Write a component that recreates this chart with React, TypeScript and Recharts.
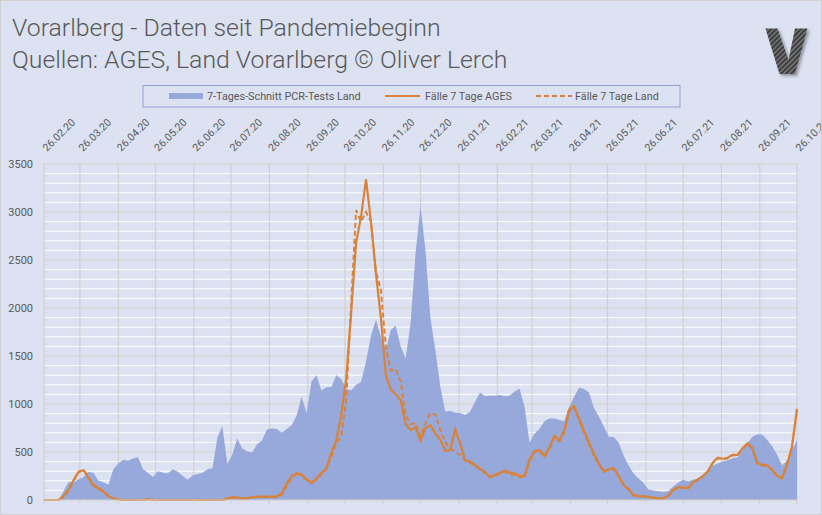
import { ComposedChart, Area, Line, XAxis, YAxis, CartesianGrid } from 'recharts';

// one sample every 4 days, starting 26.02.20
const STEP_DAYS = 4;

const tickLabels = [
  '26.02.20', '26.03.20', '26.04.20', '26.05.20', '26.06.20', '26.07.20', '26.08.20',
  '26.09.20', '26.10.20', '26.11.20', '26.12.20', '26.01.21', '26.02.21', '26.03.21',
  '26.04.21', '26.05.21', '26.06.21', '26.07.21', '26.08.21', '26.09.21', '26.10.21',
];
// days since 26.02.20
const tickDays = [0, 29, 60, 90, 121, 151, 182, 213, 243, 274, 304, 335, 366, 394, 425, 455, 486, 516, 547, 578, 608];

const yTicks = [0, 500, 1000, 1500, 2000, 2500, 3000, 3500];
const yMinor = [
  100, 200, 300, 400, 600, 700, 800, 900, 1100, 1200, 1300, 1400, 1600, 1700, 1800, 1900,
  2100, 2200, 2300, 2400, 2600, 2700, 2800, 2900, 3100, 3200, 3300, 3400,
];

// 7-Tages-Schnitt PCR-Tests Land
const pcrTests = [
  0, 0, 0, 0,
  100, 190, 185, 215, 240, 295, 280, 200, 185, 160,
  320, 380, 420, 410, 435, 445, 320, 280, 240, 300,
  285, 275, 320, 295, 250, 210, 255, 270, 285, 320,
  330, 650, 770, 380, 470, 640, 540, 505, 495, 580,
  620, 735, 745, 740, 700, 740, 780, 880, 1075, 905,
  1235, 1300, 1140, 1175, 1175, 1300, 1260, 1160, 1140, 1200,
  1230, 1440, 1710, 1880, 1700, 1565, 1770, 1815, 1600, 1475,
  1840, 2570, 3060, 2605, 1895, 1560, 1180, 920, 930, 910,
  905, 885, 920, 1020, 1120, 1080, 1085, 1085, 1095, 1080,
  1085, 1130, 1160, 975, 600, 690, 740, 820, 850, 850,
  835, 820, 970, 1075, 1170, 1155, 1120, 960, 870, 765,
  660, 655, 600, 460, 360, 275, 225, 180, 110, 100,
  90, 85, 90, 140, 180, 210, 195, 210, 225, 235,
  300, 360, 380, 400, 415, 435, 445, 520, 590, 660,
  685, 680, 625, 560, 470, 360, 415, 520, 625,
];

// Fälle 7 Tage AGES
const casesAges = [
  0, 0, 0, 0,
  45, 110, 210, 295, 310, 225, 150, 120, 85, 40,
  15, 5, 0, 0, 0, 0, 0, 10, 0, 0,
  0, 0, 0, 0, 0, 0, 0, 0, 0, 0,
  0, 0, 0, 15, 30, 25, 15, 17, 30, 35,
  35, 35, 35, 38, 70, 170, 250, 280, 260, 210,
  175, 225, 280, 330, 490, 620, 880, 1260, 1950, 2680,
  2950, 3340, 2900, 2360, 1900, 1300, 1150, 1100, 1040, 790,
  730, 760, 620, 750, 780, 695, 625, 510, 520, 735,
  590, 415, 400, 365, 330, 290, 240, 260, 285, 305,
  285, 275, 250, 250, 420, 510, 520, 460, 540, 670,
  620, 720, 940, 980, 850, 720, 600, 480, 380, 300,
  320, 330, 250, 155, 115, 50, 40, 38, 33, 25,
  17, 17, 45, 105, 135, 130, 125, 185, 215, 250,
  300, 390, 440, 430, 440, 470, 470, 540, 590, 540,
  385, 365, 360, 315, 250, 230, 370, 560, 950,
];

// Fälle 7 Tage Land
const casesLand = [
  0, 0, 0, 0,
  35, 100, 200, 290, 315, 235, 160, 125, 95, 45,
  15, 5, 0, 0, 0, 0, 0, 8, 0, 0,
  0, 0, 0, 0, 0, 0, 0, 0, 0, 0,
  0, 0, 0, 10, 25, 25, 15, 15, 28, 30,
  30, 32, 30, 35, 55, 140, 225, 270, 265, 220,
  180, 215, 270, 320, 450, 590, 660, 1040, 2050, 3020,
  2900, 3000, 2900, 2380, 2190, 1600, 1350, 1360, 1230, 880,
  790, 800, 660, 800, 905, 890, 730, 600, 540, 505,
  470, 410, 390, 355, 320, 285, 235, 250, 275, 295,
  270, 260, 240, 240, 400, 500, 510, 450, 530, 650,
  610, 700, 920, 970, 830, 700, 580, 460, 370, 295,
  315, 325, 245, 150, 110, 48, 38, 35, 30, 22,
  15, 15, 40, 100, 130, 125, 120, 180, 210, 245,
  295, 385, 435, 425, 435, 465, 465, 535, 585, 535,
  380, 360, 355, 310, 245, 225, 365, 555, 940,
];

const data = pcrTests.map((v, i) => ({
  day: i * STEP_DAYS,
  pcr: v,
  ages: casesAges[i],
  land: casesLand[i],
}));

const BG = '#dce2f1';
const BLUE = '#97a9da';
const ORANGE = '#d9823a';
const GRID = '#d3d1ce';
const TEXT = '#595959';
const FONT = 'Roboto, "Open Sans", sans-serif';

function DateTick({ x, payload }: any) {
  const label = tickLabels[tickDays.indexOf(payload.value)] ?? '';
  const tx = x + 3;
  const ty = 152;
  return (
    <text x={tx} y={ty} transform={`rotate(-45, ${tx}, ${ty})`} fill={TEXT} fontSize={10.5} fontFamily={FONT}>
      {label}
    </text>
  );
}

export default function App() {
  return (
    <div style={{ position: 'relative', width: 822, height: 515, background: BG, overflow: 'hidden' }}>
      <style>{'body{margin:0}'}</style>
      <ComposedChart width={822} height={515} data={data} margin={{ top: 164, right: 25, bottom: 9, left: 4 }}>
        <CartesianGrid horizontalValues={yMinor} vertical={false} stroke="#ffffff" strokeWidth={1} />
        <CartesianGrid horizontalValues={yTicks} verticalValues={tickDays} stroke={GRID} strokeWidth={1.2} />
        <XAxis
          dataKey="day"
          type="number"
          domain={[0, 608]}
          ticks={tickDays}
          interval={0}
          tick={<DateTick />}
          tickSize={4}
          tickLine={{ stroke: GRID }}
          axisLine={{ stroke: GRID }}
          height={6}
        />
        <YAxis
          type="number"
          domain={[0, 3500]}
          ticks={yTicks}
          interval={0}
          axisLine={false}
          tickLine={false}
          tickMargin={5}
          width={40}
          tick={{ fill: TEXT, fontSize: 11, fontFamily: FONT }}
        />
        <Area dataKey="pcr" type="linear" fill={BLUE} fillOpacity={1} stroke="none" isAnimationActive={false} />
        <Line dataKey="land" type="linear" stroke={ORANGE} strokeWidth={2} strokeDasharray="5 3" dot={false} isAnimationActive={false} />
        <Line dataKey="ages" type="linear" stroke={ORANGE} strokeWidth={2.2} dot={false} isAnimationActive={false} />
      </ComposedChart>

      <svg width={822} height={515} style={{ position: 'absolute', left: 0, top: 0, pointerEvents: 'none' }}>
        <defs>
          <pattern id="carbon" width="3.5" height="3.5" patternUnits="userSpaceOnUse" patternTransform="rotate(45)">
            <rect width="3.5" height="3.5" fill="#3d3d3d" />
            <rect width="1.3" height="3.5" fill="#808080" />
          </pattern>
          <filter id="shadow" x="-30%" y="-30%" width="160%" height="160%">
            <feDropShadow dx="2" dy="2" stdDeviation="1.5" floodColor="#000" floodOpacity="0.35" />
          </filter>
        </defs>
        <text x={12} y={36} fontSize={24.8} fontWeight={300} fontFamily={FONT} fill={TEXT}>
          Vorarlberg - Daten seit Pandemiebeginn
        </text>
        <text x={12} y={68} fontSize={24.8} fontWeight={300} fontFamily={FONT} fill={TEXT}>
          Quellen: AGES, Land Vorarlberg © Oliver Lerch
        </text>
        <polygon
          points="765.5,28.5 777.5,28.5 788.5,60 795,28.5 807.5,28.5 795,74 779.5,74"
          fill="url(#carbon)"
          filter="url(#shadow)"
        />

        {/* legend */}
        <rect x={143} y={85.5} width={537} height={21.5} fill="none" stroke="#8ea2d6" strokeWidth={1} />
        <rect x={169} y={93} width={34} height={6} fill={BLUE} />
        <text x={207} y={99.5} fontSize={10.8} fontFamily={FONT} fill={TEXT}>7-Tages-Schnitt PCR-Tests Land</text>
        <line x1={385} y1={96} x2={420} y2={96} stroke={ORANGE} strokeWidth={2.2} />
        <text x={425} y={99.5} fontSize={10.8} fontFamily={FONT} fill={TEXT}>Fälle 7 Tage AGES</text>
        <line x1={536} y1={96} x2={572} y2={96} stroke={ORANGE} strokeWidth={2} strokeDasharray="5 3" />
        <text x={575} y={99.5} fontSize={10.8} fontFamily={FONT} fill={TEXT}>Fälle 7 Tage Land</text>
      </svg>
      <div style={{ position: 'absolute', inset: 0, border: '1px solid #d0d0d0', pointerEvents: 'none' }} />
    </div>
  );
}
